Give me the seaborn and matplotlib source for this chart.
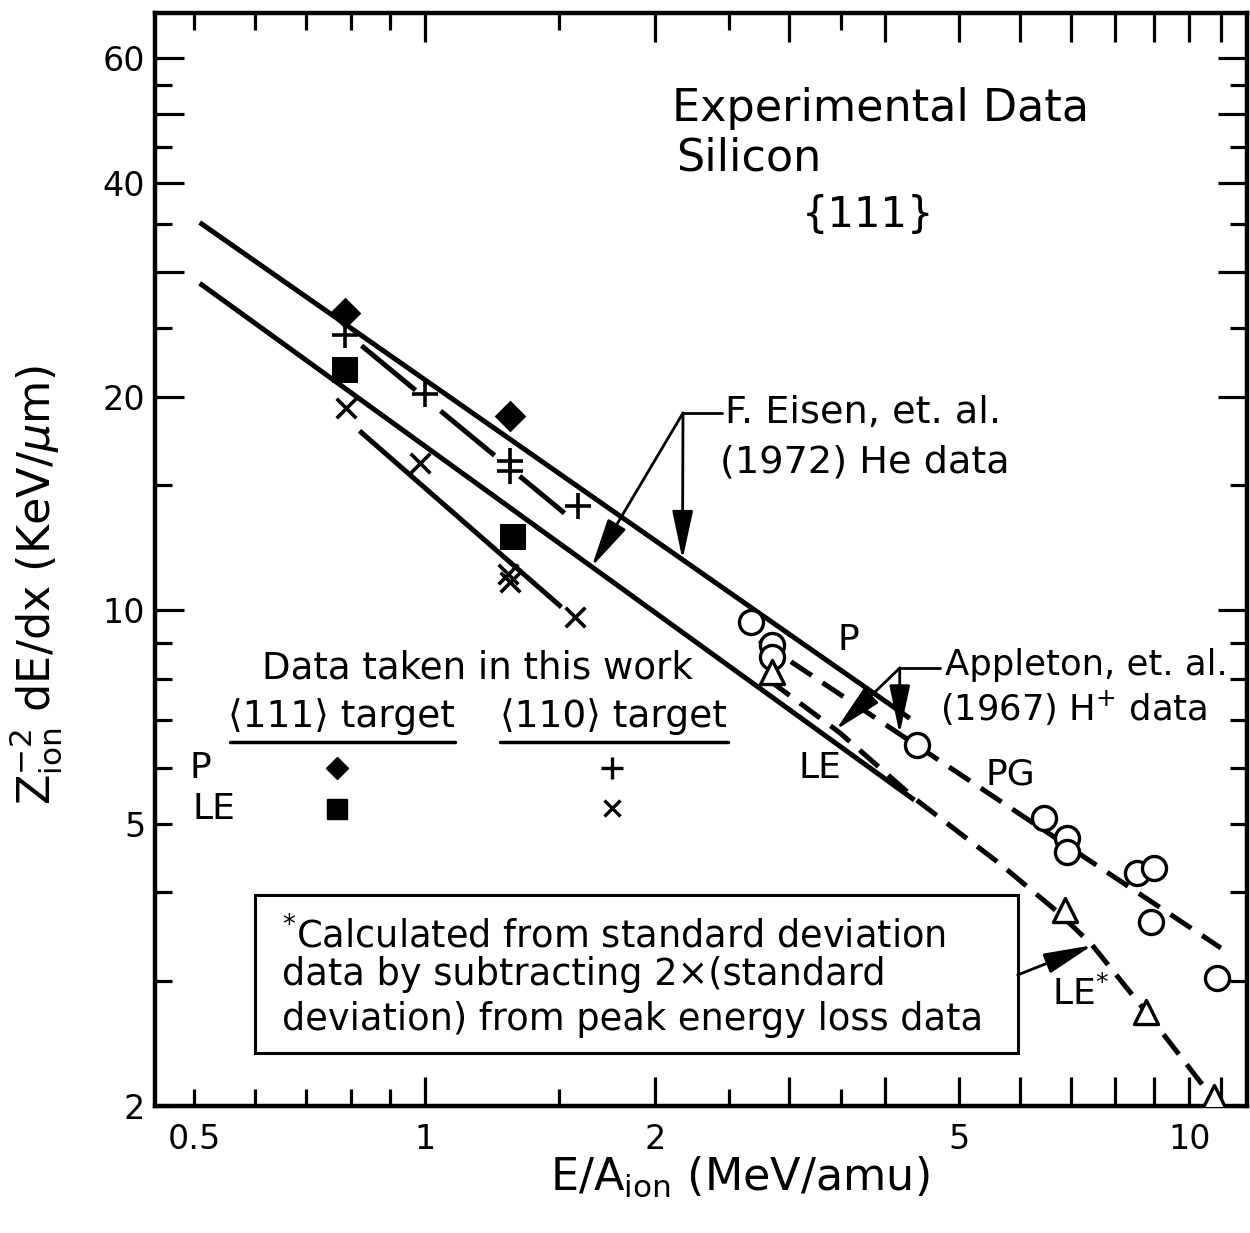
import numpy as np
import matplotlib
matplotlib.use("Agg")
import matplotlib.pyplot as plt
import seaborn as sns
from matplotlib.patches import Rectangle
from matplotlib.lines import Line2D

# ---------------- data ----------------
# Eisen et al. (1972) He data fits
eisen_p_x = [0.508, 4.31]
eisen_p_y = [35.2, 7.04]
eisen_le_x = [0.508, 4.37]
eisen_le_y = [28.9, 5.40]
# fits through this-work <110> data
fit110_p_x = [0.827, 1.524]
fit110_p_y = [23.6, 13.7]
fit110_le_x = [0.822, 1.51]
fit110_le_y = [17.9, 10.1]
# Appleton et al. (1967) H+ curves
pg_x = [2.74, 11.0]
pg_y = [9.06, 3.34]
le_star_x = [2.825, 3.49, 4.40, 5.64, 6.76, 7.47, 8.84, 10.78]
le_star_y = [7.96, 6.72, 5.40, 4.40, 3.74, 3.37, 2.69, 2.04]

# this work: <111> target
p111_x = [0.786, 1.292]
p111_y = [26.2, 18.8]
le111_x = [0.786, 1.303]
le111_y = [21.8, 12.7]
# this work: <110> target
p110_x = [0.786, 1.0, 1.292, 1.292, 1.585]
p110_y = [24.4, 20.2, 16.25, 15.7, 14.04]
le110_x = [0.79, 0.985, 1.284, 1.292, 1.575]
le110_y = [19.3, 16.15, 11.25, 10.95, 9.77]
# Appleton data (circles) and calculated LE* (triangles)
appleton_x = [2.676, 2.85, 2.85, 4.41, 6.46, 6.93, 6.93, 8.55, 9.0, 8.9, 10.88]
appleton_y = [9.61, 8.92, 8.58, 6.45, 5.09, 4.77, 4.56, 4.26, 4.33, 3.63, 3.03]
calc_x = [2.85, 6.87, 8.79, 10.78]
calc_y = [8.17, 3.78, 2.71, 2.06]

x_major = [1, 2, 3, 4, 5, 6, 7, 8, 9, 10, 11]
x_major_labels = ["1", "2", "", "", "5", "", "", "", "", "10", ""]
x_minor = [0.5, 0.6, 0.7, 0.8, 0.9, 1.5, 2.5, 3.5]
x_minor_labels = ["0.5", "", "", "", "", "", "", ""]
y_major = [10, 20, 30, 40, 50, 60]
y_major_labels = ["10", "20", "", "40", "", "60"]
y_minor = [2, 3, 4, 5, 6, 7, 8, 9, 15, 25, 35, 45, 55]
y_minor_labels = ["2", "", "", "5", "", "", "", "", "", "", "", "", ""]

# ---------------- style ----------------
sns.set_style("ticks")
plt.rcParams["font.family"] = ["DejaVu Sans"]
plt.rcParams["mathtext.fontset"] = "dejavusans"
for key in ["text.color", "axes.labelcolor", "xtick.color", "ytick.color", "axes.edgecolor"]:
    plt.rcParams[key] = "black"

fig = plt.figure(figsize=(12.5, 12.33), dpi=100)
ax = fig.add_axes([0.124, 0.103, 0.8736, 0.8865])
ax.set_xscale("log")
ax.set_yscale("log")
ax.set_xlim(0.444, 11.9)
ax.set_ylim(2.0, 69.5)

LW = 3.6
# solid lines
for xs, ys in [(eisen_p_x, eisen_p_y), (eisen_le_x, eisen_le_y), (fit110_le_x, fit110_le_y)]:
    sns.lineplot(x=xs, y=ys, ax=ax, color="black", lw=LW, estimator=None, sort=False,
                 solid_capstyle="butt")
# long-dash <110> P fit
sns.lineplot(x=fit110_p_x, y=fit110_p_y, ax=ax, color="black", lw=LW, estimator=None,
             sort=False, linestyle=(0, (14, 6.5)), dash_capstyle="butt")
# dashed Appleton curves
for xs, ys in [(pg_x, pg_y), (le_star_x, le_star_y)]:
    sns.lineplot(x=xs, y=ys, ax=ax, color="black", lw=LW, estimator=None, sort=False,
                 linestyle=(0, (5, 2.6)), dash_capstyle="butt")

# markers
sns.scatterplot(x=p111_x, y=p111_y, ax=ax, marker="D", s=260, color="black",
                edgecolor="black", linewidth=0, zorder=5)
sns.scatterplot(x=le111_x, y=le111_y, ax=ax, marker="s", s=330, color="black",
                edgecolor="black", linewidth=0, zorder=5)
sns.scatterplot(x=p110_x, y=p110_y, ax=ax, marker="+", s=330, color="black",
                linewidth=2.6, zorder=5)
sns.scatterplot(x=le110_x, y=le110_y, ax=ax, marker="x", s=200, color="black",
                linewidth=2.6, zorder=5)
sns.scatterplot(x=appleton_x, y=appleton_y, ax=ax, marker="o", s=300, color="white",
                edgecolor="black", linewidth=2.4, zorder=5)
sns.scatterplot(x=calc_x, y=calc_y, ax=ax, marker="^", s=300, color="white",
                edgecolor="black", linewidth=2.4, zorder=5)

# ---------------- axes / ticks ----------------
ax.set_xticks(x_major, labels=x_major_labels)
ax.set_xticks(x_minor, labels=x_minor_labels, minor=True)
ax.set_yticks(y_major, labels=y_major_labels)
ax.set_yticks(y_minor, labels=y_minor_labels, minor=True)
ax.tick_params(which="both", direction="in", top=True, right=True, width=2.3,
               color="black", labelcolor="black", labelsize=24)
ax.tick_params(axis="x", which="both", pad=12)
ax.tick_params(axis="y", which="both", pad=7)
ax.tick_params(which="major", length=21)
ax.tick_params(which="minor", length=12)
for sp in ax.spines.values():
    sp.set_linewidth(3.2)
    sp.set_color("black")

ax.set_xlabel("E/A$_{\\rm ion}$ (MeV/amu)", fontsize=32)
ax.xaxis.set_label_coords(0.536, -0.044)
ax.set_ylabel("Z$_{\\rm ion}^{-2}$ dE/dx (KeV/$\\mu$m)", fontsize=32)
ax.yaxis.set_label_coords(-0.083, 0.477)

T = ax.transAxes
# title text
ax.text(0.4734, 0.913, "Experimental Data", transform=T, fontsize=32, ha="left", va="center")
ax.text(0.477, 0.867, "Silicon", transform=T, fontsize=32, ha="left", va="center")
ax.text(0.653, 0.815, "{111}", transform=T, fontsize=30, ha="center", va="center")

# Eisen annotation
ax.text(0.522, 0.634, "F. Eisen, et. al.", transform=T, fontsize=27.5, ha="left", va="center")
ax.text(0.517, 0.589, "(1972) He data", transform=T, fontsize=27.5, ha="left", va="center")
ax.add_line(Line2D([0.4835, 0.519], [0.634, 0.634], transform=T, color="black", lw=2))

def on_line(xs, ys, xq):
    return 10 ** np.interp(np.log10(xq), np.log10(xs), np.log10(ys))

arrow_kw = dict(arrowstyle="-|>,head_length=1.5,head_width=0.32", color="black", lw=2,
                shrinkA=0, shrinkB=0, mutation_scale=20)
for xs, ys, xq in [(eisen_p_x, eisen_p_y, 2.174), (eisen_le_x, eisen_le_y, 1.654)]:
    ax.annotate("", xy=(xq, on_line(xs, ys, xq)), xycoords="data",
                xytext=(0.4835, 0.634), textcoords=T, arrowprops=arrow_kw)

# Appleton annotation
ax.text(0.7234, 0.4035, "Appleton, et. al.", transform=T, fontsize=25.5, ha="left", va="center")
ax.text(0.719, 0.364, "(1967) H$^{+}$ data", transform=T, fontsize=25.5, ha="left", va="center")
ax.add_line(Line2D([0.682, 0.719], [0.4007, 0.4007], transform=T, color="black", lw=2))
for xs, ys, xq in [(pg_x, pg_y, 4.18), (le_star_x, le_star_y, 3.45)]:
    ax.annotate("", xy=(xq, on_line(xs, ys, xq)), xycoords="data",
                xytext=(0.682, 0.4007), textcoords=T, arrowprops=arrow_kw)

# curve labels
ax.text(0.6346, 0.4263, "P", transform=T, fontsize=26, ha="center", va="center")
ax.text(0.609, 0.309, "LE", transform=T, fontsize=26, ha="center", va="center")
ax.text(0.783, 0.303, "PG", transform=T, fontsize=26, ha="center", va="center")
ax.text(0.848, 0.103, "LE$^{*}$", transform=T, fontsize=26, ha="center", va="center")

# in-plot legend
ax.text(0.295, 0.4007, "Data taken in this work", transform=T, fontsize=26.7, ha="center", va="center")
ax.text(0.171, 0.356, "\u27e8111\u27e9 target", transform=T, fontsize=27, ha="center", va="center")
ax.text(0.4194, 0.356, "\u27e8110\u27e9 target", transform=T, fontsize=27, ha="center", va="center")
ax.add_line(Line2D([0.0687, 0.2747], [0.333, 0.333], transform=T, color="black", lw=2.5))
ax.add_line(Line2D([0.316, 0.5247], [0.333, 0.333], transform=T, color="black", lw=2.5))
ax.text(0.032, 0.309, "P", transform=T, fontsize=26, ha="left", va="center")
ax.text(0.034, 0.2717, "LE", transform=T, fontsize=26, ha="left", va="center")
ax.plot([0.1667], [0.309], transform=T, marker="D", ms=11, color="black", ls="none")
ax.plot([0.1667], [0.2717], transform=T, marker="s", ms=15, color="black", ls="none")
ax.plot([0.4185], [0.309], transform=T, marker="+", ms=16, mew=2.4, color="black", ls="none")
ax.plot([0.4185], [0.2726], transform=T, marker="x", ms=12, mew=2.4, color="black", ls="none")

# footnote box
ax.add_patch(Rectangle((0.0916, 0.0485), 0.6984, 0.1445, transform=T, fill=False,
                       edgecolor="black", lw=2.2, zorder=4))
ax.text(0.1163, 0.1546, "$^{*}$Calculated from standard deviation", transform=T,
        fontsize=26.5, ha="left", va="center")
ax.text(0.1163, 0.1199, "data by subtracting 2\u00d7(standard", transform=T,
        fontsize=26.5, ha="left", va="center")
ax.text(0.1163, 0.0787, "deviation) from peak energy loss data", transform=T,
        fontsize=26.5, ha="left", va="center")
ax.annotate("", xy=(le_star_x[5], le_star_y[5]), xycoords="data",
            xytext=(0.790, 0.1199), textcoords=T, arrowprops=arrow_kw)

fig.savefig("out.png", dpi=100)
